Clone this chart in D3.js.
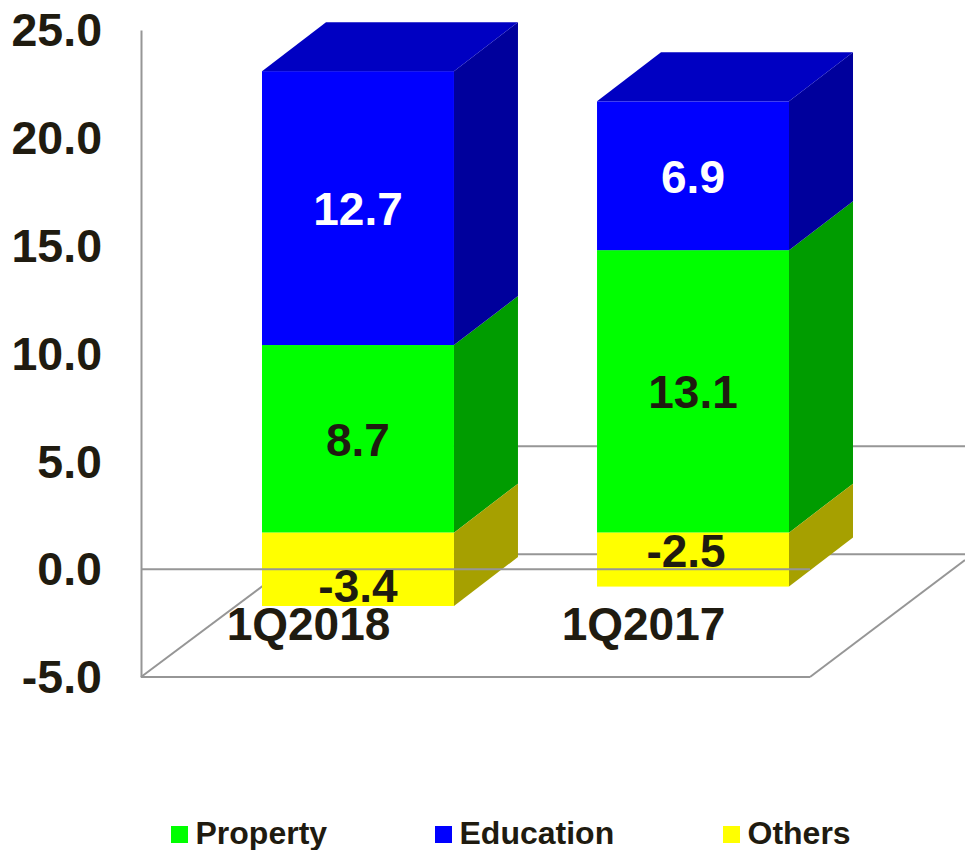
<!DOCTYPE html>
<html>
<head>
<meta charset="utf-8">
<script src="https://cdn.jsdelivr.net/npm/d3@7"></script>
<style>
  html, body { margin: 0; padding: 0; background: #fff; overflow: hidden; }
  svg { display: block; }
  text { font-family: "Liberation Sans", Arial, sans-serif; font-weight: bold; fill: #1f1b10; }
</style>
</head>
<body>
<div id="chart"></div>
<script>
const categories = ["1Q2018", "1Q2017"];
const property = [8.7, 13.1];
const education = [12.7, 6.9];
const others = [-3.4, -2.5];
const yTicks = [-5, 0, 5, 10, 15, 20, 25];
const backGridValues = [0, 5];
const seriesNames = ["Property", "Education", "Others"];

const width = 965, height = 850;

// ---- colours per series: front face, side face ----
const FRONT = { Property: "#00ff00", Education: "#0000ff", Others: "#ffff00" };
const SIDE = { Property: "#009c00", Education: "#00009c", Others: "#a6a000" };
const TOP_BLUE = "#0000c2";
const GRID = "#969696";

// 3D depth of the bars
const DX = 64, DY = -49;

// plain hyphen for negatives, d3.format would give a long minus
const fmt = v => v.toFixed(1);

const svg = d3.select("#chart").append("svg")
  .attr("width", width)
  .attr("height", height);

const y = d3.scaleLinear().domain([-5, 25]).range([677, 30]);
const x = d3.scaleBand().domain(categories).range([262, 789]).paddingInner(0.427);

// bars sit on their own plane, shifted up from the front axis
const BAR_SHIFT = -36.5;
const BACK_SHIFT = -15;
const yBar = v => y(v) + BAR_SHIFT;

const rows = categories.map((c, i) => ({
  category: c,
  Property: property[i],
  Education: education[i],
  Others: others[i]
}));

const stacked = d3.stack()
  .keys(seriesNames)
  .offset(d3.stackOffsetDiverging)(rows);

// ---- floor ----
const floorX0 = 141, floorX1 = 810;
const line = (g, x1, y1, x2, y2) => g.append("line")
  .attr("x1", x1).attr("y1", y1).attr("x2", x2).attr("y2", y2)
  .attr("stroke", GRID).attr("stroke-width", 2);

const back = svg.append("g");
line(back, floorX0, y(-5), floorX1, y(-5));
line(back, floorX0, y(-5), floorX0 + 163, y(-5) - 122);
line(back, floorX1, y(-5), 965, y(-5) - 117);

// back wall gridlines (the rest is hidden by the bars)
backGridValues.forEach(v => line(back, 304, y(v) + BACK_SHIFT, 965, y(v) + BACK_SHIFT));

// ---- bars ----
const barsG = svg.append("g");
const w = x.bandwidth();

stacked.forEach(layer => {
  const name = layer.key;
  const g = barsG.append("g").attr("class", "series-" + name);

  layer.forEach(seg => {
    const cat = seg.data.category;
    const x0 = x(cat);
    const yTop = yBar(Math.max(seg[0], seg[1]));
    const yBot = yBar(Math.min(seg[0], seg[1]));

    // side face
    g.append("polygon")
      .attr("points", [
        [x0 + w, yTop], [x0 + w + DX, yTop + DY],
        [x0 + w + DX, yBot + DY], [x0 + w, yBot]
      ].join(" "))
      .attr("fill", SIDE[name]);

    // front face
    g.append("rect")
      .attr("x", x0)
      .attr("y", yTop)
      .attr("width", w)
      .attr("height", yBot - yTop)
      .attr("fill", FRONT[name]);

    // only the top series shows its roof
    if (name === "Education") {
      g.append("polygon")
        .attr("points", [
          [x0, yTop], [x0 + DX, yTop + DY],
          [x0 + w + DX, yTop + DY], [x0 + w, yTop]
        ].join(" "))
        .attr("fill", TOP_BLUE);
    }
  });
});

// front zero line runs over the bars
line(svg, floorX0, y(0), floorX1, y(0));

// ---- y axis ----
const yAxis = d3.axisLeft(y)
  .tickValues(yTicks)
  .tickFormat(fmt)
  .tickSize(0)
  .tickPadding(39);

const axisG = svg.append("g")
  .attr("transform", `translate(${floorX0},0)`)
  .call(yAxis);

axisG.select(".domain").attr("stroke", GRID).attr("stroke-width", 2);
axisG.selectAll("text").attr("font-size", 46.5).attr("dy", "0.34em");

// ---- value labels ----
// Others labels are nudged off centre, the way the source places them
const othersNudge = { "1Q2018": [0, 16], "1Q2017": [-7, -10] };
const labelsG = svg.append("g").attr("font-size", 46).attr("text-anchor", "middle");

stacked.forEach(layer => {
  layer.forEach(seg => {
    const cat = seg.data.category;
    const nudge = layer.key === "Others" ? othersNudge[cat] : [0, 0];
    labelsG.append("text")
      .attr("x", x(cat) + w / 2 + nudge[0])
      .attr("y", (yBar(seg[0]) + yBar(seg[1])) / 2 + nudge[1] + 17)
      .style("fill", layer.key === "Education" ? "#fff" : null)
      .text(fmt(seg.data[layer.key]));
  });
});

// ---- category labels ----
svg.append("g").selectAll("text")
  .data(categories)
  .enter()
  .append("text")
  .attr("x", d => x(d) + w / 2 - 49.5)
  .attr("y", 640)
  .attr("text-anchor", "middle")
  .attr("font-size", 46)
  .text(d => d);

// ---- legend ----
const legendX = d3.scaleOrdinal().domain(seriesNames).range([171, 435, 723]);
const legend = svg.append("g").selectAll("g")
  .data(seriesNames)
  .enter()
  .append("g")
  .attr("transform", d => `translate(${legendX(d)},826)`);

legend.append("rect")
  .attr("width", 17)
  .attr("height", 17)
  .attr("fill", d => FRONT[d]);

legend.append("text")
  .attr("x", 24.5)
  .attr("y", 18)
  .attr("font-size", 32)
  .text(d => d);
</script>
</body>
</html>
